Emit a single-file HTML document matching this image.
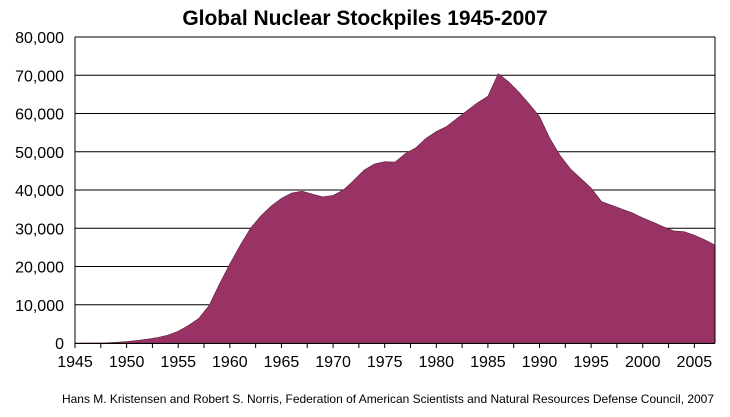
<!DOCTYPE html>
<html><head><meta charset="utf-8"><style>
html,body{margin:0;padding:0;background:#fff;}
svg{display:block;font-family:"Liberation Sans",Arial,sans-serif;}
</style></head><body>
<svg id="c" width="730" height="417" viewBox="0 0 730 417" xmlns="http://www.w3.org/2000/svg">
<text x="365" y="25" text-anchor="middle" font-size="21" font-weight="bold">Global Nuclear Stockpiles 1945-2007</text>
<g id="grid" stroke="#000" stroke-width="1"></g>
<polygon id="area" fill="#993366" stroke="#5a1e3c" stroke-width="0.6"></polygon>
<g id="axes" stroke="#000" stroke-width="1"></g>
<g id="ylab" font-size="16" text-anchor="end"></g>
<g id="xlab" font-size="16" text-anchor="middle"></g>
<text x="714" y="403" text-anchor="end" font-size="12" textLength="652" lengthAdjust="spacingAndGlyphs">Hans M. Kristensen and Robert S. Norris, Federation of American Scientists and Natural Resources Defense Council, 2007</text>
</svg>
<script>
var NS="http://www.w3.org/2000/svg";
function el(p,t,a,txt){var e=document.createElementNS(NS,t);for(var k in a)e.setAttribute(k,a[k]);if(txt!=null)e.textContent=txt;document.getElementById(p).appendChild(e);}
var x0=75,x1=715,y0=343,yt=37;
function X(yr){return x0+(yr-1945)*(x1-x0)/62;}
function Y(v){return y0-(v/80000)*(y0-yt);}
for(var v=10000;v<=80000;v+=10000){el("grid","line",{x1:x0,x2:x1,y1:Y(v),y2:Y(v)});}
for(var v=0;v<=80000;v+=10000){el("ylab","text",{x:64,y:Y(v)+6},v==0?"0":(v/1000)+",000");}
el("axes","line",{x1:x0,x2:x1,y1:y0+0.5,y2:y0+0.5});
el("axes","line",{x1:x0,x2:x0,y1:yt,y2:y0+5});
el("axes","line",{x1:x1,x2:x1,y1:yt,y2:y0});
for(var yr=1945;yr<=2007;yr+=2.5){el("axes","line",{x1:X(yr),x2:X(yr),y1:y0,y2:y0+5});}
for(var yr=1945;yr<=2005;yr+=5){el("xlab","text",{x:X(yr),y:y0+24},String(yr));}
var d=[2,9,13,50,170,370,640,1005,1436,2063,3057,4618,6444,9822,15468,20638,25500,30000,33200,35800,37800,39200,39700,38900,38200,38600,40000,42500,45200,46800,47400,47300,49500,51000,53500,55300,56600,58700,60800,62800,64500,70400,68300,65600,62500,59200,53500,49000,45500,43000,40500,37000,36000,35000,34000,32700,31600,30400,29300,29100,28200,27000,25600];
var pts=[X(1945)+","+y0];
for(var i=0;i<d.length;i++)pts.push(X(1945+i).toFixed(2)+","+Y(d[i]).toFixed(2));
pts.push(X(2007)+","+y0);
document.getElementById("area").setAttribute("points",pts.join(" "));
</script>
</body></html>
